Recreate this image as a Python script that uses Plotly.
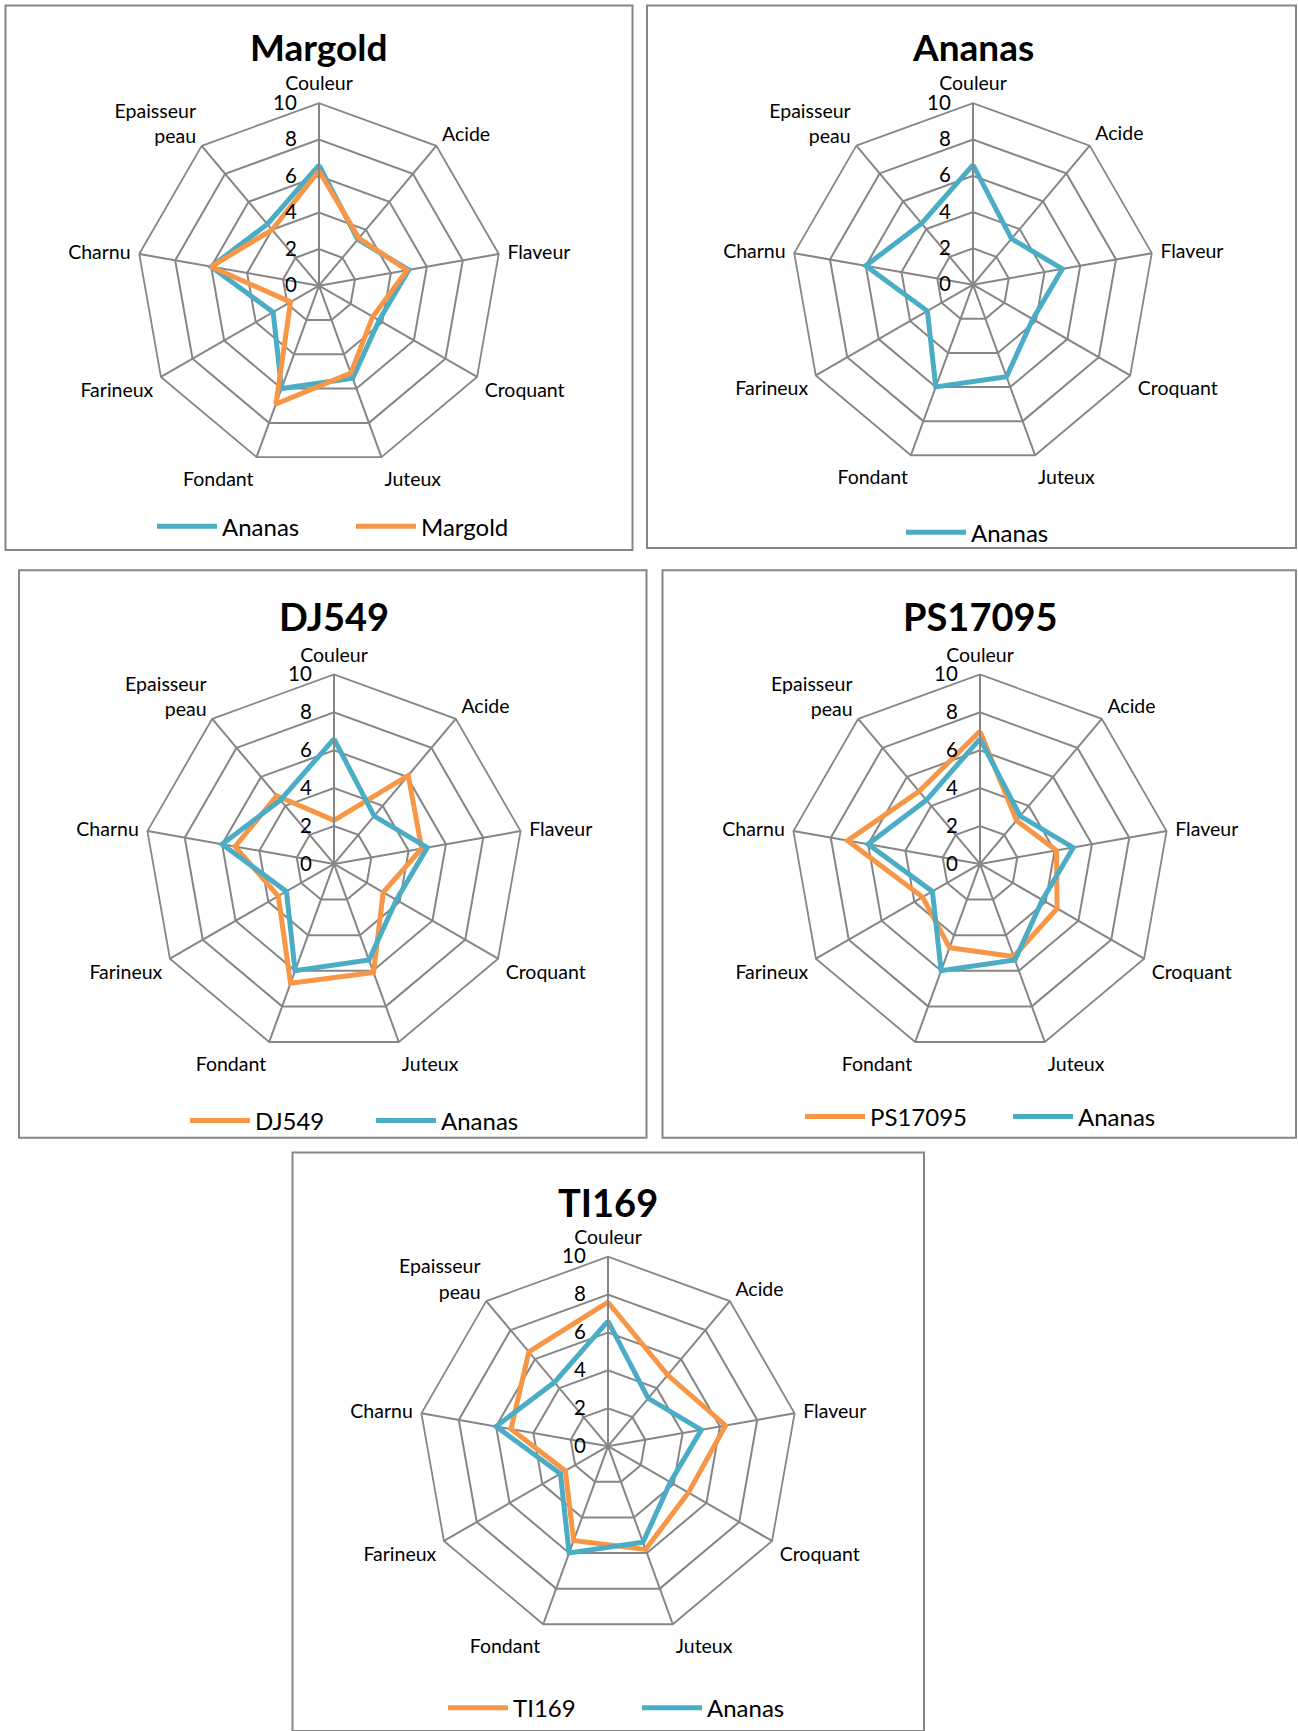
import plotly.graph_objects as go

# criteres de degustation (ordre horaire depuis le haut)
criteres = ["Couleur", "Acide", "Flaveur", "Croquant", "Juteux", "Fondant",
            "Farineux", "Charnu", "Epaisseur<br>peau"]

ananas = [6.6, 3.3, 5.0, 3.8, 5.4, 6.0, 2.9, 6.0, 4.4]
margold = [6.3, 3.4, 4.9, 3.4, 5.1, 6.9, 1.8, 6.0, 4.0]
dj549 = [2.3, 6.1, 4.7, 3.0, 6.1, 6.7, 3.4, 5.3, 4.7]
ps17095 = [7.0, 3.0, 4.1, 4.7, 5.2, 4.7, 3.5, 7.1, 5.0]
ti169 = [7.6, 4.9, 6.3, 4.9, 5.8, 5.3, 2.6, 5.2, 6.5]

BLEU = "#4BACC6"
ORANGE = "#F79646"
GRIS = "#868686"
W, H = 1298, 1731
FONT = "Lato"


def fx(x):
    return x / W


def fy(y):
    return 1 - y / H


# (titre, series, centre x, centre y, rayon, cadre, titre y, taille titre,
#  legende x, legende y, largeur entree)
panneaux = [
    ("Margold", [("Ananas", ananas, BLEU), ("Margold", margold, ORANGE)],
     319, 288, 184, (5.5, 5.5, 632.5, 554.5), 47, 37, 152, 531, 124),
    ("Ananas", [("Ananas", ananas, BLEU)],
     973, 287, 183, (647, 5.5, 1296, 552.5), 47, 37, 901, 537, 124),
    ("DJ549", [("DJ549", dj549, ORANGE), ("Ananas", ananas, BLEU)],
     334, 871, 191, (19, 575, 646.5, 1147), 621, 38, 185, 1130, 111),
    ("PS17095", [("PS17095", ps17095, ORANGE), ("Ananas", ananas, BLEU)],
     980, 871, 191, (662.5, 575, 1296, 1147), 621, 38, 800, 1126, 133),
    ("TI169", [("TI169", ti169, ORANGE), ("Ananas", ananas, BLEU)],
     608, 1458, 191, (292.5, 1162, 924, 1745), 1212, 38, 443, 1722, 119),
]

fig = go.Figure()
layout = {}
shapes = []
annotations = []

for i, (titre, series, cx, cy, r, cadre, ty, tsize, lx, ly, ew) in enumerate(panneaux):
    suffix = "" if i == 0 else str(i + 1)
    polar = "polar" + suffix
    legend = "legend" + suffix
    for nom, vals, couleur in series:
        fig.add_trace(go.Scatterpolar(
            r=vals + vals[:1],
            theta=criteres + criteres[:1],
            mode="lines",
            name=nom,
            line=dict(color=couleur, width=5),
            subplot=polar,
            legend=legend,
        ))
    layout[polar] = dict(
        domain=dict(x=[fx(cx - r), fx(cx + r)], y=[fy(cy + r), fy(cy - r)]),
        gridshape="linear",
        bgcolor="white",
        radialaxis=dict(range=[0, 10], dtick=2, angle=90, side="counterclockwise",
                        tickangle=90, showline=True, linecolor=GRIS, linewidth=2,
                        gridcolor=GRIS, gridwidth=1.8,
                        ticks="outside", ticklen=14, tickcolor="rgba(0,0,0,0)",
                        tickfont=dict(family=FONT, size=20.5, color="black")),
        angularaxis=dict(rotation=90, direction="clockwise", showline=True,
                         linecolor=GRIS, linewidth=1.8, gridcolor=GRIS, gridwidth=1.8,
                         ticks="outside", ticklen=4, tickcolor="rgba(0,0,0,0)",
                         tickfont=dict(family=FONT, size=19.5, color="black")),
    )
    layout[legend] = dict(
        orientation="h", x=fx(lx), y=fy(ly), xanchor="left", yanchor="middle",
        font=dict(family=FONT, size=24, color="black"),
        bgcolor="rgba(0,0,0,0)", itemwidth=60, entrywidth=ew,
    )
    x0, y0, x1, y1 = cadre
    shapes.append(dict(type="rect", xref="paper", yref="paper",
                       x0=fx(x0), x1=fx(x1), y0=fy(y1), y1=fy(y0),
                       line=dict(color=GRIS, width=2)))
    annotations.append(dict(text="<b>" + titre + "</b>", x=fx(cx), y=fy(ty),
                            xref="paper", yref="paper", showarrow=False,
                            xanchor="center", yanchor="middle",
                            font=dict(family=FONT, size=tsize, color="black")))

fig.update_layout(
    width=W, height=H,
    margin=dict(l=0, r=0, t=0, b=0),
    paper_bgcolor="white",
    shapes=shapes,
    annotations=annotations,
    **layout,
)

fig.write_html("out.html", config={"displayModeBar": False},
               post_script="document.body.style.margin='0';")
